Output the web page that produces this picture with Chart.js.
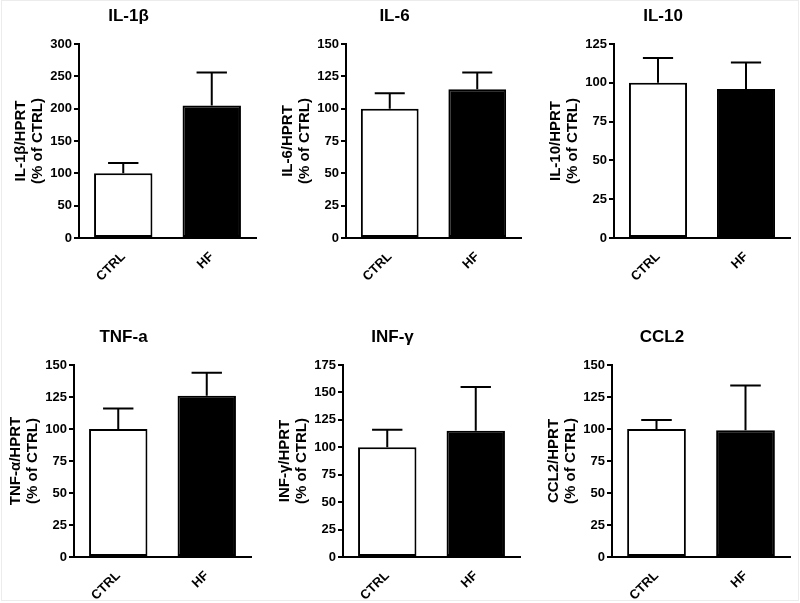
<!DOCTYPE html>
<html>
<head>
<meta charset="utf-8">
<script src="https://cdn.jsdelivr.net/npm/chart.js@4.4.1/dist/chart.umd.min.js"></script>
<style>
  body { margin: 0; background: #fff; width: 800px; height: 603px; position: relative; overflow: hidden; }
  .frame { position: absolute; left: 1px; top: 0; width: 796px; height: 599px; border: 1px solid #ececec; }
  .panel { position: absolute; }
</style>
</head>
<body>
<div class="frame"></div>
<script>
/******** data */
const groups = ["CTRL", "HF"];
const titles = ["IL-1\u03b2", "IL-6", "IL-10", "TNF-a", "INF-\u03b3", "CCL2"];
const yTitles = ["IL-1\u03b2/HPRT", "IL-6/HPRT", "IL-10/HPRT", "TNF-\u03b1/HPRT", "INF-\u03b3/HPRT", "CCL2/HPRT"];
const yMax = [300, 150, 125, 150, 175, 150];
const yStep = [50, 25, 25, 25, 25, 25];
const ctrlMean = [100, 100, 100, 100, 100, 100];
const ctrlErrTop = [116, 112, 116, 116, 116, 107];
const hfMean = [205, 115, 96, 126, 115, 99];
const hfErrTop = [256, 128, 113, 144, 155, 134];

/******** where each panel's plot sits on the page */
const boxes = [
  { axisX: 79, top: 44, h: 194, w: 177 },
  { axisX: 346, top: 44, h: 194, w: 175 },
  { axisX: 614, top: 44, h: 194, w: 176 },
  { axisX: 74, top: 365, h: 192, w: 177 },
  { axisX: 343, top: 365, h: 192, w: 177 },
  { axisX: 612, top: 365, h: 192, w: 178 },
];

const FONT = "'Liberation Sans', Arial, Helvetica, sans-serif";
const Y_W = 78, TOP_H = 44, X_H = 45, PAD_R = 6;

/******** error bars (upper only, with cap) */
const errorBars = {
  id: "errorBars",
  afterDatasetsDraw(chart, args, opts) {
    const ctx = chart.ctx;
    const meta = chart.getDatasetMeta(0);
    const y = chart.scales.y;
    ctx.save();
    ctx.strokeStyle = "#000";
    ctx.lineWidth = 2;
    meta.data.forEach((bar, i) => {
      const top = y.getPixelForValue(opts.tops[i]);
      const half = bar.width * 0.26;
      ctx.beginPath();
      ctx.moveTo(bar.x, bar.y);
      ctx.lineTo(bar.x, top);
      ctx.moveTo(bar.x - half, top);
      ctx.lineTo(bar.x + half, top);
      ctx.stroke();
    });
    ctx.restore();
  },
};

titles.forEach((title, i) => {
  const b = boxes[i];
  const div = document.createElement("div");
  div.className = "panel";
  const cw = Y_W + b.w + PAD_R;
  const ch = TOP_H + b.h + X_H;
  div.style.left = (b.axisX - Y_W) + "px";
  div.style.top = (b.top - TOP_H) + "px";
  div.style.width = cw + "px";
  div.style.height = ch + "px";
  const canvas = document.createElement("canvas");
  canvas.width = cw;
  canvas.height = ch;
  div.appendChild(canvas);
  document.body.appendChild(div);

  new Chart(canvas, {
    type: "bar",
    data: {
      labels: groups,
      datasets: [
        {
          data: [ctrlMean[i], hfMean[i]],
          backgroundColor: ["#fff", "#000"],
          borderColor: "#000",
          borderWidth: 2,
          borderSkipped: false,
          barPercentage: 0.66,
          categoryPercentage: 1,
        },
      ],
    },
    options: {
      responsive: false,
      animation: false,
      layout: { padding: { left: 0, right: PAD_R, top: 0, bottom: 0 } },
      plugins: {
        legend: { display: false },
        tooltip: { enabled: false },
        title: {
          display: true,
          text: title,
          color: "#000",
          font: { family: FONT, size: 17, weight: "bold", lineHeight: 1.2 },
          padding: { top: 6.5, bottom: 17.1 },
        },
        errorBars: { tops: [ctrlErrTop[i], hfErrTop[i]] },
      },
      scales: {
        x: {
          offset: true,
          grid: { display: false },
          border: { display: true, color: "#000", width: 2 },
          ticks: {
            color: "#000",
            font: { family: FONT, size: 13, weight: "bold" },
            minRotation: 45,
            maxRotation: 45,
            padding: 3,
          },
          afterFit(s) { s.height = X_H; },
        },
        y: {
          min: 0,
          max: yMax[i],
          grid: { drawOnChartArea: false, drawTicks: true, tickLength: 5, color: "#000", lineWidth: 2 },
          border: { display: true, color: "#000", width: 2 },
          ticks: {
            stepSize: yStep[i],
            color: "#000",
            font: { family: FONT, size: 13, weight: "bold" },
            padding: 2,
          },
          title: {
            display: true,
            text: [yTitles[i], "(% of CTRL)"],
            color: "#000",
            font: { family: FONT, size: 15, weight: "bold", lineHeight: 1.1 },
            padding: { top: 12, bottom: 0 },
          },
          afterFit(s) { s.width = Y_W; },
        },
      },
    },
    plugins: [errorBars],
  });
});
</script>
</body>
</html>
